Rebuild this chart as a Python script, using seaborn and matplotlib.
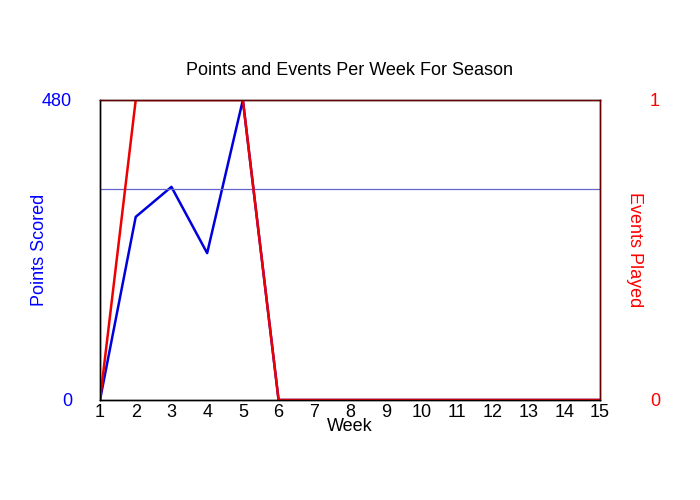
import matplotlib
matplotlib.use("Agg")
import matplotlib.pyplot as plt
import seaborn as sns
import pandas as pd

weeks = list(range(1, 16))
points = [0, 293, 341, 235, 480, 0, 0, 0, 0, 0, 0, 0, 0, 0, 0]
events = [0, 1, 1, 1, 1, 0, 0, 0, 0, 0, 0, 0, 0, 0, 0]
avg_points = 337

sns.set_style("white")
plt.rcParams['font.family'] = ['Liberation Sans', 'DejaVu Sans']
plt.rcParams['text.color'] = 'black'
plt.rcParams['xtick.color'] = 'black'
df = pd.DataFrame({"week": weeks, "points": points, "events": events})

fig = plt.figure(figsize=(7, 5), dpi=100)
ax = fig.add_axes([100/700, 100/500, 500/700, 300/500])
sns.lineplot(data=df, x="week", y="points", ax=ax, color="#0000dd", lw=1.8)
ax.axhline(avg_points, color="#6666cc", lw=0.9)
ax.set_xlim(1, 15); ax.set_ylim(0, 480)
ax.set_xticks(weeks)
ax.set_yticks([0, 480])
ax.tick_params(axis='y', colors='blue', labelsize=13, length=0, pad=20)
ax.tick_params(axis='x', colors='black', labelsize=13, length=0, pad=3)
ax.set_ylabel("Points Scored", color="blue", fontsize=13, labelpad=-4)
ax.set_xlabel("Week", fontsize=13, labelpad=-2, color='black')
ax.set_title("Points and Events Per Week For Season", fontsize=13, pad=18, color='black')
ax2 = ax.twinx()
sns.lineplot(data=df, x="week", y="events", ax=ax2, color="#ee0000", lw=1.8)
ax2.set_ylim(0, 1); ax2.set_yticks([0, 1])
ax2.tick_params(axis='y', colors='red', labelsize=13, length=0, pad=36)
ax2.set_ylabel("Events Played", color="red", fontsize=13, rotation=270, labelpad=-12)
for a in (ax, ax2):
    for s in a.spines.values():
        s.set_color("black"); s.set_linewidth(1)
ax2.spines['top'].set_color("#660000")
ax2.spines['right'].set_color("#660000")
fig.savefig("out.png", dpi=100)
